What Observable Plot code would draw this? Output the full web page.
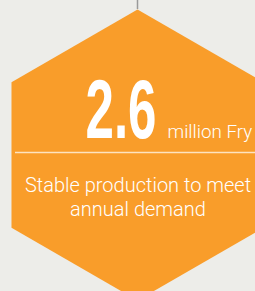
<!DOCTYPE html>
<html><head><meta charset="utf-8">
<script src="https://cdn.jsdelivr.net/npm/d3@7"></script>
<script src="https://cdn.jsdelivr.net/npm/@observablehq/plot@0.6"></script>
<style>
html,body{margin:0;padding:0;background:#EDEDE9;}
svg{display:block;}
</style>
</head><body>
<div id="chart"></div>
<script>
// Content
const value = ["2.6"];
const unit = ["million Fry"];
const descLines = ["Stable production to meet", "annual demand"];
// Hexagon (pointy-top) centre and radius in pixel-space units
const hexCenter = [137, 154.5];
const hexRadius = [145.5];

const W = 255, H = 291;
const hex = d3.range(7).map(i => {
  const a = (-90 + 60 * i) * Math.PI / 180;
  return {x: hexCenter[0] + hexRadius[0] * Math.cos(a), y: hexCenter[1] + hexRadius[0] * Math.sin(a)};
});
const topY = hexCenter[1] - hexRadius[0];
const lightFont = "Roboto, 'Liberation Sans', Arial, sans-serif";

const chart = Plot.plot({
  width: W, height: H,
  margin: 0,
  x: {domain: [0, W], axis: null},
  y: {domain: [0, H], reverse: true, axis: null},
  style: {background: "#EDEDE9", overflow: "hidden"},
  marks: [
    Plot.ruleX([hexCenter[0]], {y1: 0, y2: topY, stroke: "#9a9a9a", strokeWidth: 1.5}),
    Plot.line(hex, {x: "x", y: "y", fill: "#F99D2A", stroke: "none"}),
    Plot.ruleY([152], {x1: 15, x2: W, stroke: "#FDE3C0", strokeWidth: 1.5}),
    Plot.text(value, {x: 85, y: 137, text: d => d, fill: "white", fontSize: 83, fontWeight: "bold",
      fontFamily: "'Liberation Sans', Arial, sans-serif", textAnchor: "start", lineAnchor: "bottom",
      className: "bigvalue"}),
    Plot.text(unit, {x: 167, y: 137, text: d => d, fill: "white", fontSize: 18.8, fontWeight: 300,
      fontFamily: lightFont, textAnchor: "start", lineAnchor: "bottom"}),
    Plot.text(descLines, {x: 137.5, y: (d, i) => 191 + i * 24, text: d => d, fill: "white", fontSize: 20, fontWeight: 300,
      fontFamily: lightFont, textAnchor: "middle", lineAnchor: "bottom"})
  ]
});
// condense the big number horizontally to match the narrow display face
const sx = 71 / (83 * 1.39);
d3.select(chart).selectAll(".bigvalue text").each(function() {
  const t = d3.select(this);
  const x0 = +t.attr("x") || 0, y0 = +t.attr("y") || 0;
  const prev = t.attr("transform") || "";
  t.attr("transform", `${prev} translate(${x0} ${y0}) scale(${sx} 1) translate(${-x0} ${-y0})`);
});
document.getElementById("chart").appendChild(chart);
</script>
</body></html>
